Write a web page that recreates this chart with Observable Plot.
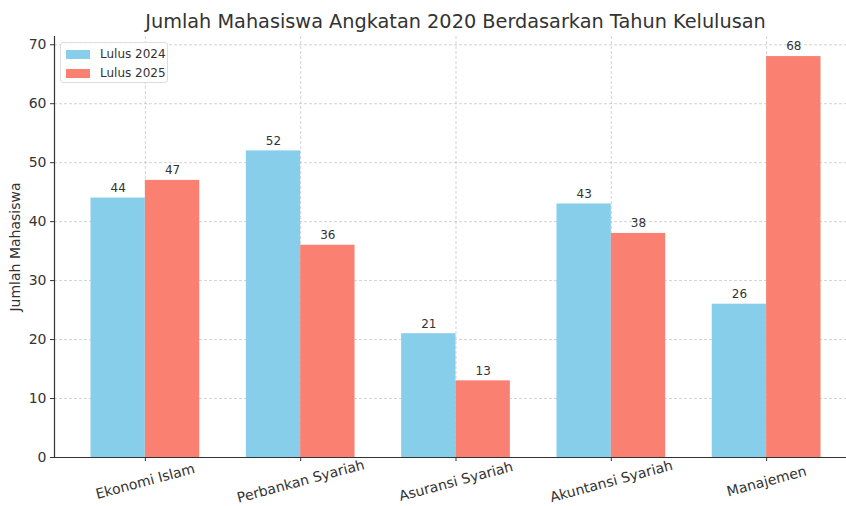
<!DOCTYPE html>
<html><head><meta charset="utf-8">
<script src="https://cdn.jsdelivr.net/npm/d3@7"></script>
<script src="https://cdn.jsdelivr.net/npm/@observablehq/plot@0.6"></script>
<style>
html,body{margin:0;padding:0;background:#fff;overflow:hidden;width:846px;height:506px;}
body{font-family:"DejaVu Sans",sans-serif;position:relative;}
#chart{width:860px;}
#chart svg{max-width:none !important;display:block;}
#title{height:34px;width:860px;text-align:center;font-size:19.3px;color:#333;line-height:20px;padding-top:12px;box-sizing:border-box;padding-left:54px;padding-right:3px;}
#legend{position:absolute;left:60px;top:42px;width:108px;height:41px;border:1px solid #ddd;border-radius:3px;background:rgba(255,255,255,0.85);font-size:12px;color:#333;box-sizing:border-box;}
.item{position:absolute;left:5px;display:flex;align-items:center;}
.sw{width:24px;height:9px;margin-right:10px;}
</style></head>
<body>
<div id="title"></div>
<div id="chart"></div>
<div id="legend"></div>
<script>
const title = "Jumlah Mahasiswa Angkatan 2020 Berdasarkan Tahun Kelulusan";
const categories = ["Ekonomi Islam", "Perbankan Syariah", "Asuransi Syariah", "Akuntansi Syariah", "Manajemen"];
const series = ["Lulus 2024", "Lulus 2025"];
const lulus2024 = [44, 52, 21, 43, 26];
const lulus2025 = [47, 36, 13, 38, 68];
const yTicks = [0, 10, 20, 30, 40, 50, 60, 70];
const colors = ["#87CEEB", "#FA8072"];
const yLabel = "Jumlah Mahasiswa";

document.getElementById("title").textContent = title;

const barW = 0.35;
const rows = [];
categories.forEach((c, i) => {
  rows.push({cat: c, i, s: series[0], v: lulus2024[i], x1: i - barW, x2: i});
  rows.push({cat: c, i, s: series[1], v: lulus2025[i], x1: i, x2: i + barW});
});
const idx = categories.map((c, i) => i);
const pad = (categories.length - 1 + 2 * barW) * 0.05 + barW;
const ymax = Math.max(...lulus2024, ...lulus2025) * 1.05;

const chart = Plot.plot({
  width: 860, height: 472,
  marginLeft: 54, marginRight: 3, marginTop: 2, marginBottom: 49,
  style: {fontFamily: "DejaVu Sans, sans-serif", color: "#333", overflow: "visible", maxWidth: "none"},
  x: {type: "linear", domain: [-pad, categories.length - 1 + pad]},
  y: {type: "linear", domain: [0, ymax]},
  color: {domain: series, range: colors},
  marks: [
    Plot.ruleY(yTicks, {stroke: "#b0b0b0", strokeOpacity: 0.7, strokeDasharray: "3,2", strokeWidth: 0.8}),
    Plot.ruleX(idx, {stroke: "#b0b0b0", strokeOpacity: 0.7, strokeDasharray: "3,2", strokeWidth: 0.8}),
    Plot.rectY(rows, {x1: "x1", x2: "x2", y1: 0, y2: "v", fill: "s"}),
    Plot.text(rows, {x: d => (d.x1 + d.x2) / 2, y: "v", text: d => String(d.v), dy: -10, fontSize: 12, fill: "#333"}),
    Plot.frame({anchor: "left", stroke: "#333", strokeWidth: 1.2}),
    Plot.frame({anchor: "bottom", stroke: "#333", strokeWidth: 1.2}),
    Plot.axisY(yTicks, {tickSize: 4, fontSize: 14, tickPadding: 4, label: yLabel, labelAnchor: "center", labelArrow: "none", labelOffset: 44, stroke: "#333"}),
    Plot.axisX(idx, {tickSize: 4, tickFormat: () => "", label: null, stroke: "#333"}),
    Plot.text(idx, {x: d => d, y: 0, text: d => categories[d], rotate: -15, dy: 24, fontSize: 14, fill: "#333", textAnchor: "middle"})
  ]
});
document.getElementById("chart").appendChild(chart);

const lg = document.getElementById("legend");
series.forEach((s, k) => {
  const it = document.createElement("div");
  it.className = "item";
  it.style.top = (4 + k * 19) + "px";
  it.innerHTML = `<span class="sw" style="background:${colors[k]}"></span><span>${s}</span>`;
  lg.appendChild(it);
});
</script>
</body></html>
